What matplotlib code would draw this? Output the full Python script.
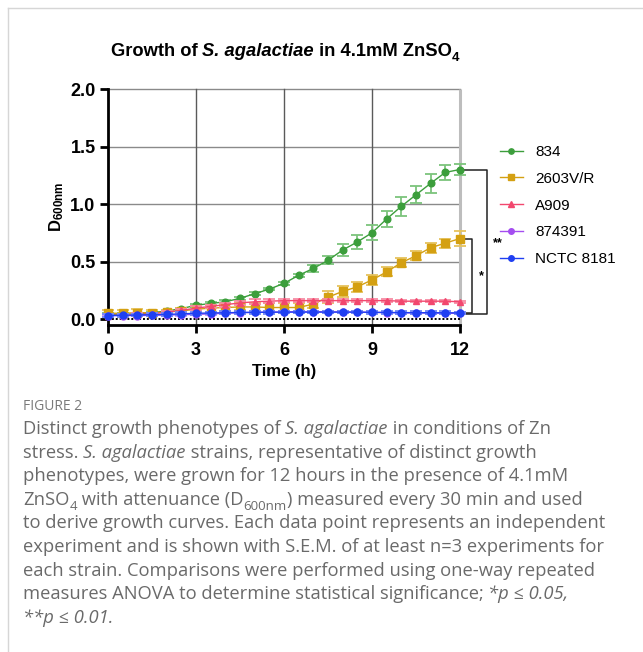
import matplotlib
matplotlib.use("Agg")
import matplotlib.pyplot as plt
from matplotlib.lines import Line2D

# ---- data -------------------------------------------------------------
time_h = [0, 0.5, 1, 1.5, 2, 2.5, 3, 3.5, 4, 4.5, 5, 5.5, 6, 6.5, 7, 7.5,
          8, 8.5, 9, 9.5, 10, 10.5, 11, 11.5, 12]

labels = ["834", "2603V/R", "A909", "874391", "NCTC 8181"]

od_834 = [0.04, 0.04, 0.045, 0.055, 0.07, 0.09, 0.12, 0.135, 0.15, 0.18,
          0.22, 0.26, 0.31, 0.38, 0.44, 0.51, 0.60, 0.67, 0.75, 0.87,
          0.98, 1.08, 1.18, 1.275, 1.30]
sem_834 = [0.01, 0.01, 0.01, 0.01, 0.01, 0.01, 0.012, 0.012, 0.012, 0.012,
           0.012, 0.012, 0.012, 0.015, 0.03, 0.035, 0.055, 0.06, 0.065,
           0.07, 0.08, 0.075, 0.085, 0.065, 0.05]

od_2603 = [0.05, 0.05, 0.055, 0.055, 0.06, 0.07, 0.085, 0.095, 0.10, 0.105,
           0.105, 0.10, 0.10, 0.10, 0.13, 0.19, 0.24, 0.28, 0.34, 0.41,
           0.49, 0.55, 0.62, 0.66, 0.70]
sem_2603 = [0.025, 0.025, 0.03, 0.02, 0.02, 0.025, 0.03, 0.03, 0.03, 0.03,
            0.035, 0.035, 0.035, 0.035, 0.03, 0.05, 0.05, 0.045, 0.04,
            0.04, 0.04, 0.04, 0.045, 0.04, 0.065]

od_a909 = [0.03, 0.035, 0.04, 0.045, 0.06, 0.075, 0.095, 0.11, 0.125, 0.14,
           0.15, 0.155, 0.16, 0.16, 0.16, 0.16, 0.16, 0.16, 0.16, 0.16,
           0.155, 0.155, 0.155, 0.155, 0.15]
sem_a909 = [0.01, 0.01, 0.01, 0.01, 0.012, 0.012, 0.015, 0.015, 0.018, 0.02,
            0.02, 0.02, 0.015, 0.015, 0.012, 0.01, 0.01, 0.01, 0.01, 0.01,
            0.01, 0.01, 0.01, 0.01, 0.01]

od_874391 = [0.03, 0.03, 0.03, 0.032, 0.035, 0.038, 0.04, 0.045, 0.05, 0.055,
             0.058, 0.06, 0.062, 0.064, 0.064, 0.063, 0.062, 0.06, 0.058,
             0.056, 0.054, 0.053, 0.052, 0.05, 0.05]
sem_874391 = [0.008] * 25

od_nctc = [0.03, 0.032, 0.035, 0.038, 0.04, 0.045, 0.05, 0.052, 0.055, 0.057,
           0.058, 0.059, 0.06, 0.06, 0.06, 0.06, 0.06, 0.06, 0.058, 0.057,
           0.056, 0.055, 0.055, 0.054, 0.053]
sem_nctc = [0.012] * 25

x_ticks = [0, 3, 6, 9, 12]
y_ticks = [0.0, 0.5, 1.0, 1.5, 2.0]
y_tick_labels = ["0.0", "0.5", "1.0", "1.5", "2.0"]

# ---- styling ----------------------------------------------------------
colors = ["#3c9e3c", "#d4a012", "#f2476e", "#a44df0", "#1f3ff2"]
err_colors = ["#7cc47c", "#e6c35e", "#f78ca4", "#c795f5", "#7088f7"]
markers = ["o", "s", "^", "o", "o"]
msizes = [4.8, 6.0, 5.0, 5.0, 5.0]
series = [(od_834, sem_834), (od_2603, sem_2603), (od_a909, sem_a909),
          (od_874391, sem_874391), (od_nctc, sem_nctc)]

plt.rcParams["mathtext.fontset"] = "custom"
plt.rcParams["mathtext.rm"] = "Liberation Sans"
plt.rcParams["mathtext.bf"] = "Liberation Sans:bold"
plt.rcParams["mathtext.it"] = "Liberation Sans:italic"

W, H = 643, 652
fig = plt.figure(figsize=(W / 100, H / 100), dpi=100)
fig.patch.set_facecolor("white")

ax = fig.add_axes([108 / W, 1 - 325 / H, 352 / W, (325 - 89) / H])
ax.set_xlim(0, 12)
ax.set_ylim(-0.052, 2.0)

# grid lines
for yv in y_ticks[1:]:
    ax.axhline(yv, color="#8a8a8a", lw=1.0, zorder=1, clip_on=False)
for xv in x_ticks[1:-1]:
    ax.axvline(xv, color="#5a5a5a", lw=1.0, zorder=1, clip_on=False)
ax.plot([12, 12], [-0.052, 2.0], color="#bdbdbd", lw=2.2, zorder=1,
        clip_on=False, solid_capstyle="butt")
ax.axhline(0, color="black", lw=1.4, ls=(0, (1, 1)), zorder=1.5)

for i, ((vals, errs), c, ec, m, ms) in enumerate(
        zip(series, colors, err_colors, markers, msizes)):
    cont = ax.errorbar(time_h, vals, yerr=errs, color=c, ecolor=ec,
                       marker=m, ms=ms, lw=1.0, elinewidth=1.3, capsize=4,
                       capthick=1.3, zorder=3 + i)
    cont.lines[0].set_clip_on(False)
    for a in list(cont.lines[1]) + list(cont.lines[2]):
        a.set_clip_on(False)

for s in ["top", "right"]:
    ax.spines[s].set_visible(False)
for s in ["left", "bottom"]:
    ax.spines[s].set_linewidth(2.0)
ax.set_xticks(x_ticks)
ax.set_yticks(y_ticks)
ax.set_yticklabels(y_tick_labels)
ax.tick_params(axis="both", length=6, width=2.0, direction="out",
               labelsize=13)
ax.tick_params(axis="x", pad=6)
ax.tick_params(axis="y", pad=3)
for lab in ax.get_xticklabels() + ax.get_yticklabels():
    lab.set_fontweight("bold")
    lab.set_fontfamily("Liberation Sans")

ax.set_xlabel("Time (h)", fontsize=12, fontweight="bold",
              family="Liberation Sans", labelpad=4)
ax.set_ylabel(r"D$_{\mathbf{600nm}}$", fontsize=12, fontweight="bold",
              family="Liberation Sans", labelpad=3)

# significance brackets at the final time point
x_end = time_h[-1]
base = min(od_874391[-1], od_nctc[-1])
ax.plot([x_end, 12.92, 12.92, x_end], [od_834[-1], od_834[-1], base - 0.005, base - 0.005],
        color="#222222", lw=1.1, clip_on=False, zorder=2)
ax.plot([x_end, 12.42, 12.42, x_end], [od_2603[-1], od_2603[-1], base, base],
        color="#222222", lw=1.1, clip_on=False, zorder=2)
ax.text(13.28, 0.66, "**", ha="center", va="center", fontsize=9,
        fontweight="bold", family="Liberation Sans")
ax.text(12.72, 0.37, "*", ha="center", va="center", fontsize=9,
        fontweight="bold", family="Liberation Sans")

# legend
handles = [Line2D([], [], color=c, marker=m, ms=ms * 0.8, lw=1.0)
           for c, m, ms in zip(colors, markers, msizes)]
fig.legend(handles, labels, loc="upper left",
           bbox_to_anchor=(500 / W, 1 - 145 / H), frameon=False,
           handlelength=1.5, handletextpad=0.8,
           labelspacing=0.84, borderpad=0, borderaxespad=0,
           prop={"family": "Liberation Sans", "size": 11})

# ---- rich text helper -------------------------------------------------
renderer = fig.canvas.get_renderer()


def text_width(s, **kw):
    a = fig.text(0, 0, "x" + s + "x", **kw)
    b = fig.text(0, 0, "xx", **kw)
    w = a.get_window_extent(renderer).width - b.get_window_extent(renderer).width
    a.remove()
    b.remove()
    return w


def draw_runs(x_px, y_px, runs, size, color, family, weight="normal",
              center=False):
    pieces = []
    total = 0
    for txt, kind in runs:
        fs = size * 0.72 if kind.endswith("sub") else size
        style = "italic" if kind.startswith("i") else "normal"
        kw = dict(fontsize=fs, fontstyle=style, family=family,
                  fontweight=weight, color=color)
        w = text_width(txt, **kw)
        pieces.append((txt, kw, w, 0.28 * size * 100 / 72 if kind.endswith("sub") else 0))
        total += w
    x = x_px - total / 2 if center else x_px
    for txt, kw, w, dy in pieces:
        fig.text(x / W, 1 - (y_px + dy) / H, txt, va="baseline", ha="left", **kw)
        x += w


# title
draw_runs(285, 56, [("Growth of ", "n"), ("S. agalactiae", "i"),
                    (" in 4.1mM ZnSO", "n"), ("4", "sub")],
          13.2, "black", "Liberation Sans", weight="bold", center=True)

# caption panel border
fig.add_artist(Line2D([8 / W, 8 / W], [0, 1 - 8 / H], color="#d6d6d6", lw=1.0))
fig.add_artist(Line2D([8 / W, 1], [1 - 8 / H, 1 - 8 / H], color="#d6d6d6", lw=1.0))

cap_color = "#6a6a6a"
cap_family = ["Open Sans", "DejaVu Sans"]
draw_runs(23, 410, [("FIGURE 2", "n")], 10, "#7a7a7a", cap_family)

caption_lines = [
    [("Distinct growth phenotypes of ", "n"), ("S. agalactiae", "i"),
     (" in conditions of Zn", "n")],
    [("stress. ", "n"), ("S. agalactiae", "i"),
     (" strains, representative of distinct growth", "n")],
    [("phenotypes, were grown for 12 hours in the presence of 4.1mM", "n")],
    [("ZnSO", "n"), ("4", "sub"), (" with attenuance (D", "n"), ("600nm", "sub"),
     (") measured every 30 min and used", "n")],
    [("to derive growth curves. Each data point represents an independent", "n")],
    [("experiment and is shown with S.E.M. of at least n=3 experiments for", "n")],
    [("each strain. Comparisons were performed using one-way repeated", "n")],
    [("measures ANOVA to determine statistical significance; ", "n"),
     ("*p \u2264 0.05,", "i")],
    [("**p \u2264 0.01.", "i")],
]
for k, runs in enumerate(caption_lines):
    draw_runs(23, 434 + k * 23.6, runs, 13.2, cap_color, cap_family)

fig.savefig("out.png", dpi=100, facecolor="white")
